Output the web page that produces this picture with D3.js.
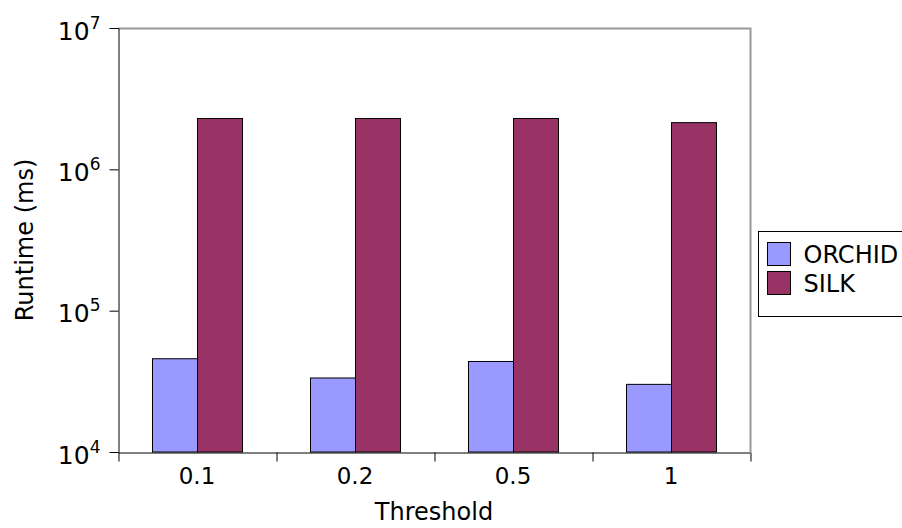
<!DOCTYPE html>
<html>
<head>
<meta charset="utf-8">
<script src="https://cdn.jsdelivr.net/npm/d3@7"></script>
<style>
  html, body { margin: 0; padding: 0; background: #fff; }
  svg { display: block; }
  svg text { font-family: "DejaVu Sans", sans-serif; fill: #000; }
</style>
</head>
<body>
<svg id="chart" width="902" height="528"></svg>
<script>
// Runtime per threshold for each system
const thresholds = ["0.1", "0.2", "0.5", "1"];
const seriesNames = ["ORCHID", "SILK"];
const orchidMs = [45700, 33400, 43700, 30100];
const silkMs = [2290000, 2290000, 2290000, 2140000];
const yTickExponents = [4, 5, 6, 7];
const seriesColors = ["#9999FF", "#993366"];

const svg = d3.select("#chart");
const plot = { left: 118, right: 750, top: 28, bottom: 452 };

const x = d3.scaleBand().domain(thresholds).range([plot.left, plot.right]).padding(0);
const groupFrac = 90 / 158;
const outerPad = (1 / groupFrac - 1) * seriesNames.length / 2;
const xs = d3.scaleBand().domain(seriesNames).range([0, x.bandwidth()])
  .paddingInner(0).paddingOuter(outerPad);
const y = d3.scaleLog().domain([1e4, 1e7]).range([plot.bottom, plot.top]);

const rows = thresholds.map((t, i) => ({ t, values: [orchidMs[i], silkMs[i]] }));

// frame: grey top/right edges
svg.append("path")
  .attr("d", `M${plot.left},${plot.top + 0.5}H${plot.right + 0.5}V${plot.bottom}`)
  .attr("fill", "none").attr("stroke", "#999").attr("stroke-width", 2);

// bars
const groups = svg.append("g").selectAll("g").data(rows).join("g")
  .attr("transform", d => `translate(${x(d.t)},0)`);
groups.selectAll("rect").data(d => d.values.map((v, k) => ({ name: seriesNames[k], v, k })))
  .join("rect")
  .attr("x", d => xs(d.name) + 0.5)
  .attr("y", d => y(d.v))
  .attr("width", xs.bandwidth())
  .attr("height", d => plot.bottom - y(d.v))
  .attr("fill", d => seriesColors[d.k])
  .attr("stroke", "#000").attr("stroke-width", 1);

// y axis
const yAxis = svg.append("g").attr("transform", `translate(${plot.left + 0.5},0)`)
  .call(d3.axisLeft(y).tickValues(yTickExponents.map(e => Math.pow(10, e)))
    .tickSize(9).tickSizeOuter(0).tickFormat(""));
yAxis.attr("font-family", null).attr("font-size", null);
yAxis.select(".domain").attr("stroke", "#000");
yAxis.selectAll(".tick line").attr("stroke", "#000");
yAxis.selectAll(".tick").each(function (d) {
  const t = d3.select(this).append("text")
    .attr("x", -18).attr("y", 11)
    .attr("text-anchor", "end")
    .style("font-size", "25px");
  t.append("tspan").text("10");
  t.append("tspan").attr("dy", -11).style("font-size", "17px").text(Math.round(Math.log10(d)));
});

// x axis: boundary ticks and centred labels
const xb = d3.scaleLinear().domain([0, thresholds.length]).range([plot.left, plot.right]);
const xAxis = svg.append("g").attr("transform", `translate(0,${plot.bottom + 0.5})`)
  .call(d3.axisBottom(xb).ticks(thresholds.length).tickSize(9).tickSizeOuter(0).tickFormat(""));
xAxis.select(".domain").attr("stroke", "#000");
xAxis.selectAll(".tick line").attr("stroke", "#000").attr("transform", "translate(0.5,0)");

svg.append("g").selectAll("text").data(thresholds).join("text")
  .attr("x", d => x(d) + x.bandwidth() / 2)
  .attr("y", 484)
  .attr("text-anchor", "middle")
  .style("font-size", "23px")
  .text(d => d);

// axis titles
svg.append("text").attr("x", 434).attr("y", 520).attr("text-anchor", "middle")
  .style("font-size", "24px").text("Threshold");
svg.append("text").attr("transform", "translate(33,240) rotate(-90)")
  .attr("text-anchor", "middle").style("font-size", "24px").text("Runtime (ms)");

// legend
const legend = svg.append("g");
legend.append("rect").attr("x", 758.5).attr("y", 231.5).attr("width", 160).attr("height", 85)
  .attr("fill", "#fff").attr("stroke", "#000");
const li = legend.selectAll("g").data(seriesNames).join("g")
  .attr("transform", (d, i) => `translate(767.5,${242.5 + i * 29})`);
li.append("rect").attr("width", 23).attr("height", 23)
  .attr("fill", (d, i) => seriesColors[i]).attr("stroke", "#000");
li.append("text").attr("x", 36).attr("y", 20).style("font-size", "24px").text(d => d);
</script>
</body>
</html>
